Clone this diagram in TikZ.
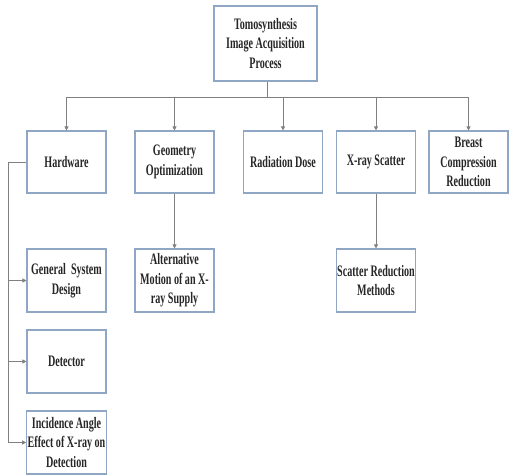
\documentclass[tikz,border=0pt]{standalone}
\usepackage{fontspec}
\setmainfont{Liberation Serif}
\newfontfamily\nf[FakeStretch=0.63]{Liberation Serif}
\usetikzlibrary{arrows.meta}
\definecolor{boxc}{HTML}{8FA6C4}
\definecolor{arrc}{HTML}{808080}
\definecolor{txtc}{HTML}{262626}
\begin{document}
\begin{tikzpicture}[x=1pt,y=-1pt,
  box/.style={draw=boxc,line width=1.1pt,fill=white,rectangle,minimum width=79pt,minimum height=62pt,
    align=center,inner sep=1pt,font=\nf\bfseries\fontsize{16}{19.5}\selectfont,text=txtc},
  arr/.style={draw=arrc,line width=0.9pt,-{Triangle[length=4pt,width=4pt]}},
  ln/.style={draw=arrc,line width=0.9pt}]
\useasboundingbox (0,0) rectangle (514,476);
\node[box,minimum width=103pt,minimum height=75pt] (top) at (265.5,43.5) {Tomosynthesis\\Image Acquisition\\Process};
\node[box] (hw) at (66.5,162) {Hardware};
\node[box] (geo) at (174.5,162) {Geometry\\Optimization};
\node[box] (rad) at (283,162) {Radiation Dose};
\node[box] (xs) at (376,162) {X-ray Scatter};
\node[box] (br) at (468.5,162) {Breast\\Compression\\Reduction};
\node[box,minimum height=63pt] (gsd) at (66.5,280.5) {General\, System\\Design};
\node[box,minimum height=63pt] (det) at (66.5,361.5) {Detector};
\node[box,minimum height=63pt] (inc) at (66.5,442.5) {Incidence Angle\\Effect of X-ray on\\Detection};
\node[box,minimum height=63pt] (alt) at (174.5,280.5) {Alternative\\Motion of an X-\\ray Supply};
\node[box,minimum height=63pt] (srm) at (376,280.5) {Scatter Reduction\\Methods};
\coordinate (bus) at (267,97);
\draw[ln] (top.south -| bus) -- (bus);
\draw[arr] (bus) -| (hw.north);
\draw[arr] (bus) -| (geo.north);
\draw[arr] (bus) -| (rad.north);
\draw[arr] (bus) -| (xs.north);
\draw[arr] (bus) -| (br.north);
\draw[arr] (geo.south) -- (alt.north);
\draw[arr] (xs.south) -- (srm.north);
\coordinate (lx) at (8,162);
\draw[ln] (hw.west) -- (lx);
\draw[arr] (lx) |- (gsd.west);
\draw[arr] (lx) |- (det.west);
\draw[arr] (lx) |- (inc.west);
\end{tikzpicture}
\end{document}
